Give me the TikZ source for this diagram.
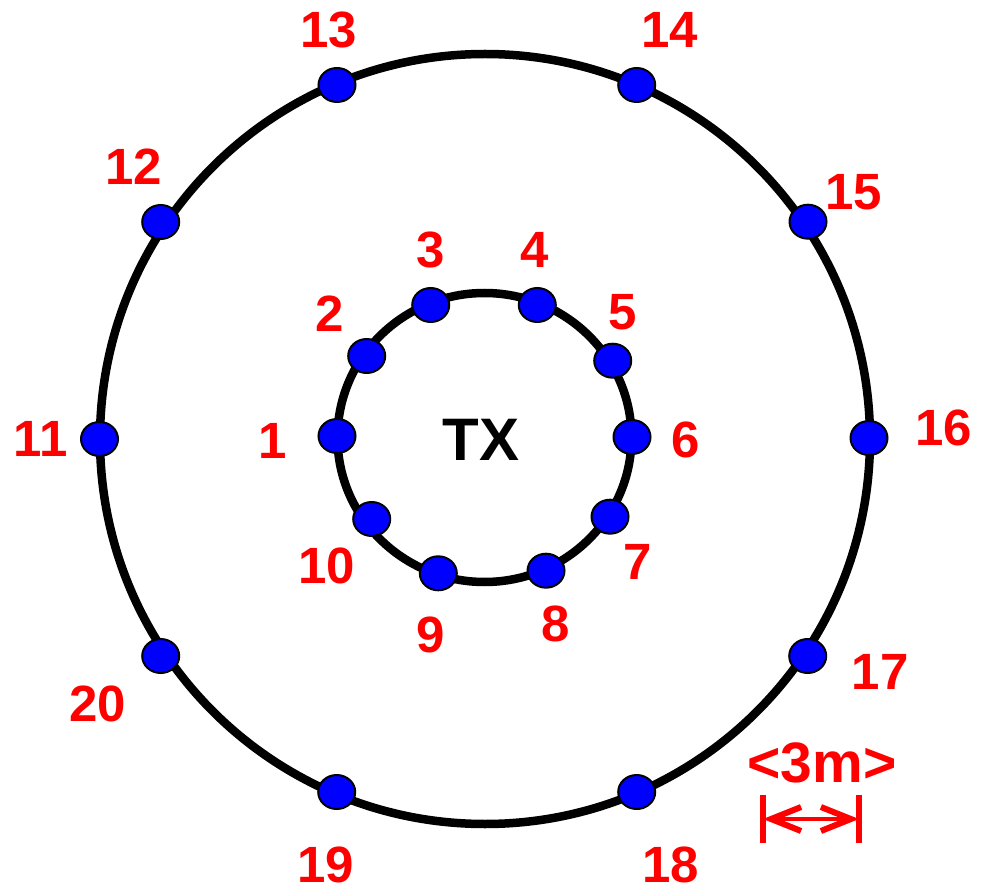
\documentclass[tikz,border=0pt]{standalone}
\usepackage{fontspec}
\setmainfont{Liberation Sans}
\usetikzlibrary{shapes.geometric,arrows.meta}
\definecolor{lblred}{RGB}{255,0,0}
\definecolor{dotblue}{RGB}{0,0,255}
\tikzset{
  ring/.style={draw=black, line width=8.5pt},
  sensor/.style={ellipse, draw=black, line width=2pt, fill=dotblue, minimum width=37pt, minimum height=34pt, inner sep=0pt},
  lbl/.style={text=lblred, font=\fontsize{51}{60}\selectfont\bfseries, inner sep=0pt, anchor=center},
  txlbl/.style={text=black, font=\fontsize{60}{70}\selectfont\bfseries, inner sep=0pt, anchor=center},
  scalelbl/.style={text=lblred, font=\fontsize{57}{66}\selectfont\bfseries, inner sep=0pt, anchor=center},
  tickline/.style={draw=lblred, line width=6pt},
  dimline/.style={draw=lblred, line width=4pt, {Straight Barb[length=30pt,width=24pt,line width=6pt]}-{Straight Barb[length=30pt,width=24pt,line width=6pt]}}
}
\begin{document}
\begin{tikzpicture}[x=1pt,y=-1pt]
\useasboundingbox (0,0) rectangle (988,890);
% rings
\draw[ring] (485,439) circle [radius=385pt];
\draw[ring] (484.5,437.5) ellipse [x radius=147pt, y radius=144.5pt];
% inner sensors
\node[sensor] (d1) at (337,436) {};
\node[sensor] (d2) at (366.7,356) {};
\node[sensor] (d3) at (430.7,305) {};
\node[sensor] (d4) at (537.3,305) {};
\node[sensor] (d5) at (612.7,360.7) {};
\node[sensor] (d6) at (632,437) {};
\node[sensor] (d7) at (610,516.7) {};
\node[sensor] (d8) at (546,570.7) {};
\node[sensor] (d9) at (438.3,573.3) {};
\node[sensor] (d10) at (371.7,519) {};
% outer sensors
\node[sensor] (d11) at (99.5,439) {};
\node[sensor] (d12) at (160.7,222) {};
\node[sensor] (d13) at (337,85) {};
\node[sensor] (d14) at (636.7,85) {};
\node[sensor] (d15) at (808,221.7) {};
\node[sensor] (d16) at (869,438) {};
\node[sensor] (d17) at (807.7,656) {};
\node[sensor] (d18) at (636.7,792) {};
\node[sensor] (d19) at (336.7,792) {};
\node[sensor] (d20) at (160.7,656) {};
% labels
\node[lbl] (l1) at (272.5,441) {1};
\node[lbl] (l2) at (329.5,314) {2};
\node[lbl] (l3) at (430.5,249.5) {3};
\node[lbl] (l4) at (535,250) {4};
\node[lbl] (l5) at (623,312) {5};
\node[lbl] (l6) at (686,440) {6};
\node[lbl] (l7) at (638,562) {7};
\node[lbl] (l8) at (556,624) {8};
\node[lbl] (l9) at (431,635) {9};
\node[lbl] (l10) at (327,566) {10};
\node[lbl] (l11) at (40.5,439) {11};
\node[lbl] (l12) at (133.5,167) {12};
\node[lbl] (l13) at (328.5,30) {13};
\node[lbl] (l14) at (670,30) {14};
\node[lbl] (l15) at (853.5,192) {15};
\node[lbl] (l16) at (943.5,427.5) {16};
\node[lbl] (l17) at (880,672) {17};
\node[lbl] (l18) at (670.5,865) {18};
\node[lbl] (l19) at (325.5,865) {19};
\node[lbl] (l20) at (98,703.5) {20};
\node[txlbl] (tx) at (481,440) {TX};
% scale bar
\node[scalelbl] (scl) at (822,762.5) {<3m>};
\coordinate (ta1) at (763,795);
\coordinate (tb1) at (763,843);
\coordinate (ta2) at (859,795);
\coordinate (tb2) at (859,843);
\coordinate (sa) at (763,819);
\coordinate (sb) at (859,819);
\draw[tickline] (ta1) -- (tb1);
\draw[tickline] (ta2) -- (tb2);
\draw[dimline] (sa) -- (sb);
\end{tikzpicture}
\end{document}
